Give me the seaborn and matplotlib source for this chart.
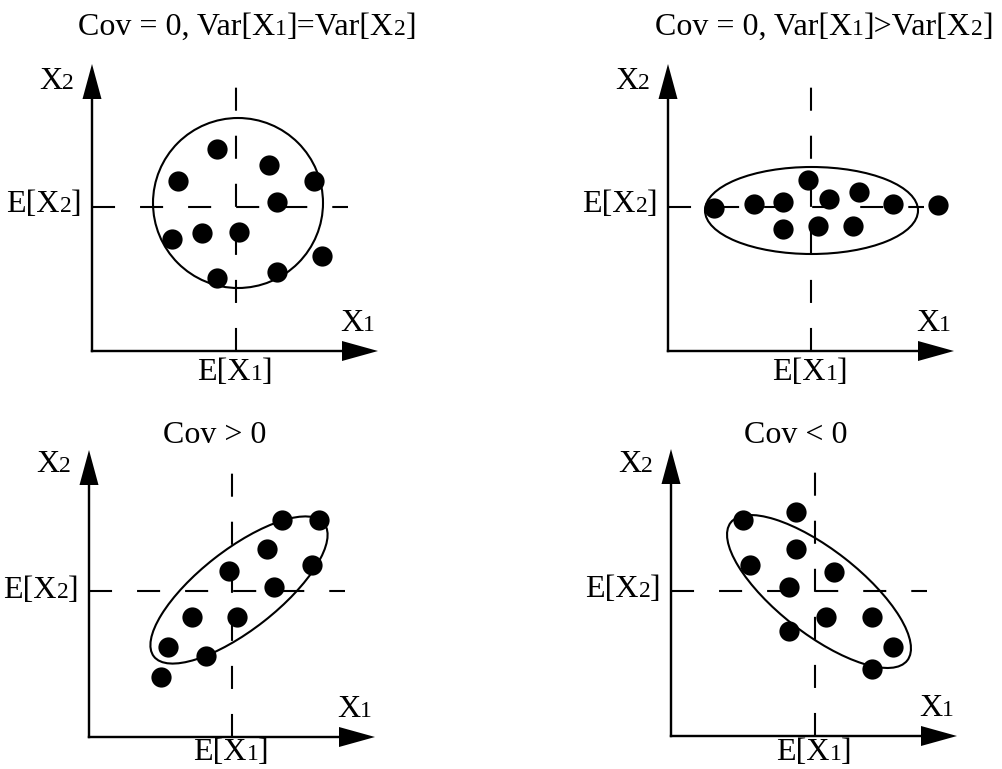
import re

import matplotlib
matplotlib.use("Agg")
from matplotlib import pyplot as plt
from matplotlib.patches import Ellipse
from matplotlib.offsetbox import TextArea, HPacker, AnnotationBbox
from pandas import DataFrame
import seaborn as sns

## DATA (offsets in px from each panel's origin)
titles = ["Cov = 0, Var[X_1]=Var[X_2]", "Cov = 0, Var[X_1]>Var[X_2]", "Cov > 0", "Cov < 0"]
lbl_x1, lbl_x2 = "X_1", "X_2"
lbl_ex1, lbl_ex2 = "E[X_1]", "E[X_2]"

eq_x1 = [125, 177, 86, 222, 185, 80, 110, 147, 230, 125, 185]
eq_x2 = [202, 186, 170, 170, 149, 112, 118, 119, 95, 73, 79]
wide_x1 = [46, 86, 115, 140, 161, 191, 225, 270, 115, 150, 185]
wide_x2 = [143, 147, 149, 171, 152, 159, 147, 146, 122, 125, 125]
pos_x1 = [193, 230, 178, 223, 140, 185, 103, 148, 79, 117, 72]
pos_x2 = [217, 217, 188, 172, 166, 150, 120, 120, 90, 81, 60]
neg_x1 = [72, 125, 125, 79, 163, 118, 155, 201, 118, 222, 201]
neg_x2 = [216, 224, 187, 171, 164, 149, 119, 119, 105, 89, 67]

mean_x1 = [144, 143, 143, 144]
mean_x2 = [144, 144, 146, 145]

# contour ellipse of each panel: centre, width, height, angle
ell_cx = [146, 143.5, 150, 148]
ell_cy = [148, 140.5, 147, 144.5]
ell_w = [170, 213, 216, 224]
ell_h = [170, 87, 80, 84]
ell_ang = [0, 0, 38, -38]

points = [(eq_x1, eq_x2), (wide_x1, wide_x2), (pos_x1, pos_x2), (neg_x1, neg_x2)]

## LAYOUT
W, H = 1003, 769
origins = [(92, 351), (668, 351), (89, 737), (671, 736)]
title_pos = [(-14, 316, 0.0), (-13, 316, 0.0), (126, 294, 0.5), (125, 293, 0.5)]
x2_lbl_y = [262, 262, 265, 264]
ex1_lbl_y = [-29, -29, -23, -24]
FONT = "Liberation Serif"
BIG, SMALL = 23, 17
BASE = 0.24


def rich(ax, x, y, s, ha=0.5):
    # text with the digit after '_' set smaller on the same baseline
    boxes = []
    for i, p in enumerate(re.split(r"_(\d)", s)):
        if not p:
            continue
        size = SMALL if i % 2 else BIG
        boxes.append(TextArea(p, textprops=dict(size=size, family=FONT, color="black")))
    pack = HPacker(children=boxes, align="baseline", pad=0, sep=0)
    ab = AnnotationBbox(pack, (x, y), xycoords="data", box_alignment=(ha, BASE),
                        frameon=False, pad=0)
    ax.add_artist(ab)


sns.set_style("white")
plt.rcParams["lines.scale_dashes"] = False

fig, axes = plt.subplots(2, 2, figsize=(W / 100, H / 100), dpi=100)
fig.subplots_adjust(left=0, right=1, bottom=0, top=1, wspace=0, hspace=0)

for k, ax in enumerate(axes.flat):
    ox, oy = origins[k]
    L = (k % 2) * W / 2
    T = (k // 2) * H / 2
    ax.set_xlim(L - ox, L + W / 2 - ox)
    ax.set_ylim(oy - (T + H / 2), oy - T)
    ax.set_axis_off()

    # axes with arrow heads
    ax.arrow(-1.2, 0, 287.2, 0, width=2.4, head_width=20, head_length=36,
             length_includes_head=True, color="black", lw=0)
    ax.arrow(0, -1.2, 0, 288.2, width=2.4, head_width=19, head_length=35,
             length_includes_head=True, color="black", lw=0)

    # dashed mean lines
    mx, my = mean_x1[k], mean_x2[k]
    ax.plot([mx, mx], [0, 265], color="black", lw=1.5, dashes=(16.6, 18))
    ax.plot([0, 256], [my, my], color="black", lw=1.5, dashes=(16.6, 18))

    ax.add_patch(Ellipse((ell_cx[k], ell_cy[k]), ell_w[k], ell_h[k], angle=ell_ang[k],
                         fill=False, ec="black", lw=1.5))

    df = DataFrame({"x1": points[k][0], "x2": points[k][1]})
    sns.scatterplot(data=df, x="x1", y="x2", color="black", s=212, linewidth=0,
                    legend=False, ax=ax)
    ax.set_axis_off()

    tx, ty, tha = title_pos[k]
    rich(ax, tx, ty, titles[k], ha=tha)
    rich(ax, -53, x2_lbl_y[k], lbl_x2, ha=0.0)
    rich(ax, -10, 138.5, lbl_ex2, ha=1.0)
    rich(ax, 248, 20, lbl_x1, ha=0.0)
    rich(ax, mx - 1, ex1_lbl_y[k], lbl_ex1, ha=0.5)

fig.savefig("out.png", dpi=100)
